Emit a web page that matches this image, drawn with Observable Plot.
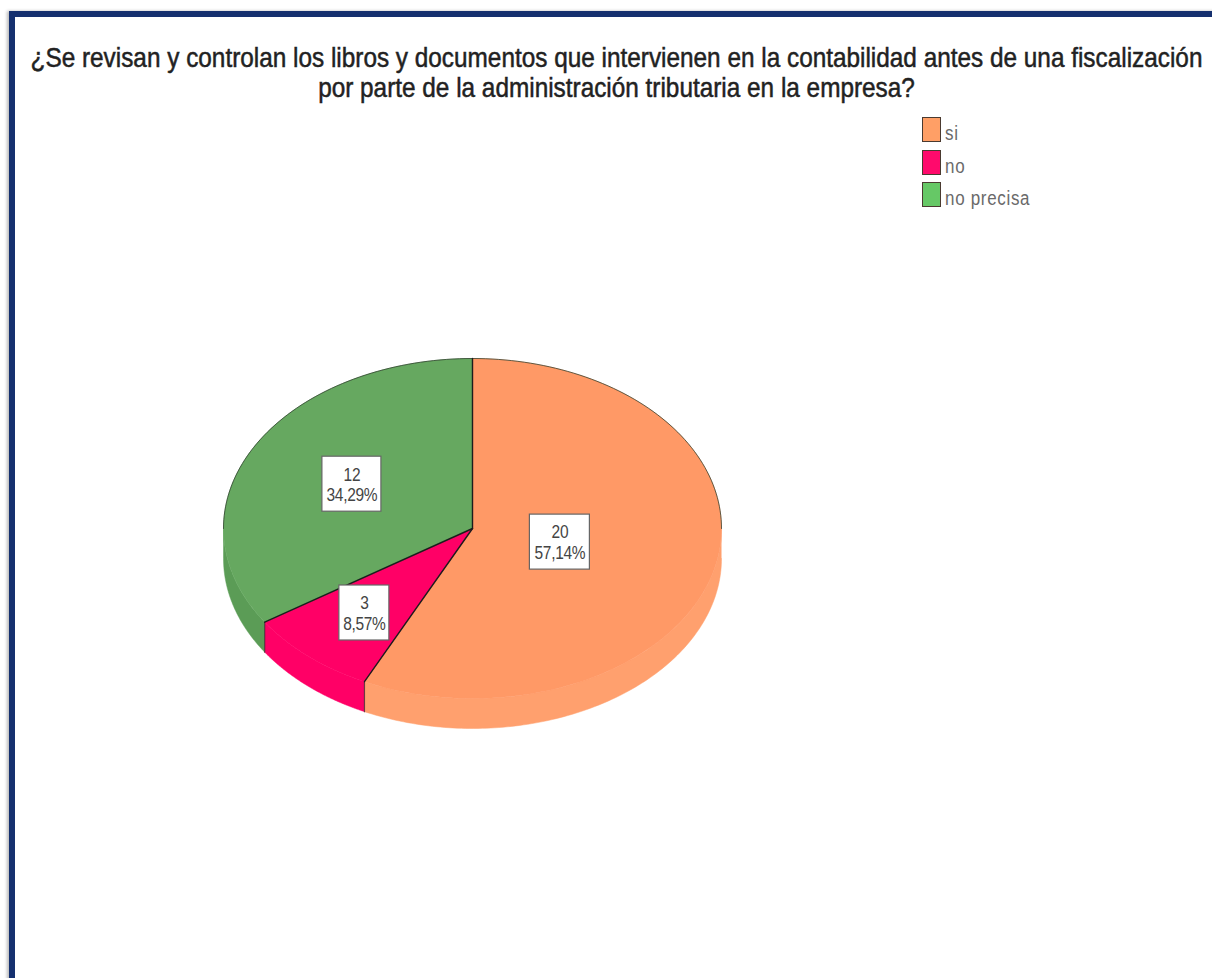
<!DOCTYPE html>
<html lang="es">
<head>
<meta charset="utf-8">
<script src="https://cdn.jsdelivr.net/npm/d3@7"></script>
<script src="https://cdn.jsdelivr.net/npm/@observablehq/plot@0.6"></script>
<style>
html,body{margin:0;padding:0;background:#fff;overflow:hidden;width:1212px;height:978px}
#frame{position:absolute;left:9px;top:11px;width:1300px;height:1100px;border:6px solid #15306f;box-sizing:border-box;box-shadow:-2px 0 3px #bbb;background:#fff}
#title{position:absolute;left:0;top:43px;width:1233px;text-align:center;font:24.35px/26.5px "Liberation Sans",Arial,sans-serif;color:#222;-webkit-text-stroke:.45px #222;margin:0;transform:scaleY(1.12);transform-origin:top}
#chart{position:absolute;left:0;top:0}
#chart svg text{letter-spacing:-.3px}
#legend{position:absolute;left:922px;top:117px;font:20px "Liberation Sans",Arial,sans-serif;color:#6a6a6a;letter-spacing:.8px}
.item{position:absolute;left:0;display:flex;align-items:flex-start;white-space:nowrap}
.sw{width:19px;height:25px;box-sizing:border-box;border:1.5px solid #4a3a30;margin-right:4px}
.lb{display:inline-block;transform:scale(.85,1.05);transform-origin:left top;margin-top:4px}
</style>
</head>
<body>
<div id="frame"></div>
<div id="chart"></div>
<h1 id="title" style="font-weight:normal">¿Se revisan y controlan los libros y documentos que intervienen en la contabilidad antes de una fiscalización<br>por parte de la administración tributaria en la empresa?</h1>
<div id="legend"></div>
<script>
// Data
const categories = ["si", "no", "no precisa"];
const counts = [20, 3, 12];
const percentLabels = ["57,14%", "8,57%", "34,29%"];

// Colours
const topColors = ["#FF9966", "#FF0066", "#66A860"];
const wallColors = ["#FFA06E", "#FF0066", "#5B9C56"];
const legendColors = ["#FF9F66", "#FF0A6C", "#66C866"];

// Drawing of the pie (ellipse with a visible rim)
const labelReach = [0.36, 0.66, 0.55];
const rimDepth = 30 / 170;
const pxX = 249, pxY = 170;
const boxW = [60, 50, 59], boxH = 55;

const arcs = d3.pie().sort(null)(counts);
const px = a => Math.sin(a), py = a => Math.cos(a);
const sweep = (a0, a1) => d3.range(0, 121).map(i => a0 + (a1 - a0) * i / 120);

const tops = arcs.flatMap((d, i) => [
  {x: 0, y: 0, k: i, c: topColors[i]},
  ...sweep(d.startAngle, d.endAngle).map(a => ({x: px(a), y: py(a), k: i, c: topColors[i]}))
]);

const walls = arcs.flatMap((d, i) => {
  const a0 = Math.max(d.startAngle, Math.PI / 2), a1 = Math.min(d.endAngle, 3 * Math.PI / 2);
  const s = sweep(a0, a1);
  return [
    ...s.map(a => ({x: px(a), y: py(a), k: i, c: wallColors[i]})),
    ...s.slice().reverse().map(a => ({x: px(a), y: py(a) - rimDepth, k: i, c: wallColors[i]}))
  ];
});

const upperRim = sweep(-Math.PI / 2, Math.PI / 2).map(a => ({x: px(a), y: py(a)}));
const radii = arcs.flatMap((d, i) => [
  {x: 0, y: 0, k: i}, {x: px(d.startAngle), y: py(d.startAngle), k: i}
]);
const wallEdges = arcs.slice(1).flatMap((d, i) => [
  {x: px(d.startAngle), y: py(d.startAngle), k: i},
  {x: px(d.startAngle), y: py(d.startAngle) - rimDepth, k: i}
]);

const labels = arcs.map((d, i) => {
  const m = (d.startAngle + d.endAngle) / 2;
  return {
    x: px(m) * labelReach[i], y: py(m) * labelReach[i],
    w: boxW[i] / pxX / 2, h: boxH / pxY / 2,
    text: counts[i] + "\n" + percentLabels[i]
  };
});

const stretchText = (index, scales, values, dimensions, context, next) => {
  const g = next(index, scales, values, dimensions, context);
  g.querySelectorAll("text").forEach(t => t.setAttribute("transform", (t.getAttribute("transform") || "") + " scale(1,1.14)"));
  return g;
};

const chart = Plot.plot({
  width: 1212, height: 978,
  margin: 0,
  style: {background: "transparent"},
  x: {domain: [-1, 1], range: [223, 721], axis: null},
  y: {domain: [-1, 1], range: [698, 358], axis: null},
  color: {type: "identity"},
  marks: [
    Plot.line(walls, {x: "x", y: "y", z: "k", fill: "c", stroke: "c", strokeWidth: 0.5, curve: "linear"}),
    Plot.line(tops, {x: "x", y: "y", z: "k", fill: "c", stroke: "c", strokeWidth: 0.5, curve: "linear"}),
    Plot.line(wallEdges, {x: "x", y: "y", z: "k", stroke: "#3a2a30", strokeWidth: 1.2, strokeOpacity: 0.75}),
    Plot.line(upperRim, {x: "x", y: "y", stroke: "#2a3a28", strokeWidth: 1, strokeOpacity: 0.75}),
    Plot.line(radii, {x: "x", y: "y", z: "k", stroke: "#1c1c1c", strokeWidth: 1.4}),
    Plot.rect(labels, {
      x1: d => d.x - d.w, x2: d => d.x + d.w,
      y1: d => d.y - d.h, y2: d => d.y + d.h,
      fill: "#fff", stroke: "#666", strokeWidth: 1.2
    }),
    Plot.text(labels, {
      x: "x", y: "y", text: "text",
      fontFamily: "'Liberation Sans',Arial,sans-serif",
      fontSize: 15.5, lineHeight: 1.14, fill: "#444",
      render: stretchText
    })
  ]
});
document.getElementById("chart").append(chart);

// Legend
const legend = document.getElementById("legend");
categories.forEach((name, i) => {
  const item = document.createElement("div");
  item.className = "item";
  item.style.top = (i * 32.5) + "px";
  const sw = document.createElement("span");
  sw.className = "sw";
  sw.style.background = legendColors[i];
  const lb = document.createElement("span");
  lb.className = "lb";
  lb.textContent = name;
  item.append(sw, lb);
  legend.append(item);
});
</script>
</body>
</html>
